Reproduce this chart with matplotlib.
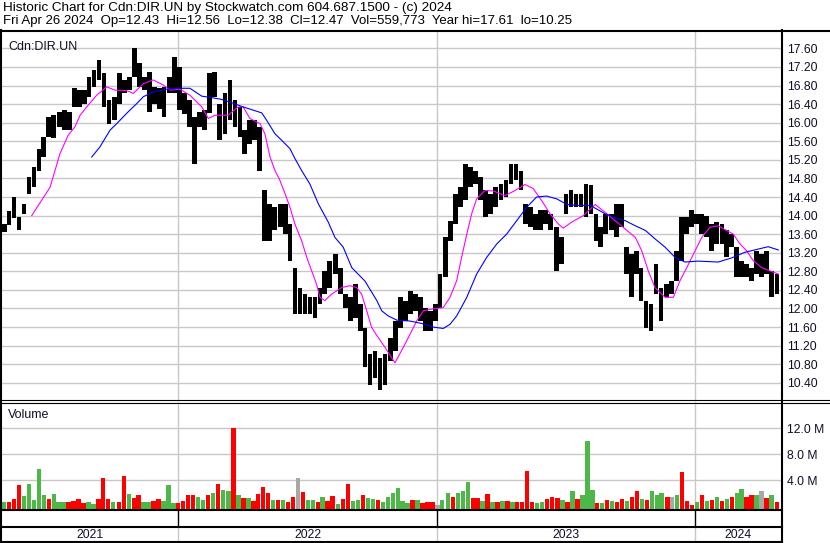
import numpy as np
import pandas as pd
import matplotlib
matplotlib.use('Agg')
import matplotlib.pyplot as plt
from matplotlib.lines import Line2D

plt.rcParams['font.family'] = ['Liberation Sans', 'DejaVu Sans']

# === Weekly price range (May 2021 -> Apr 2024) ===
week_high = [13.82, 14.10, 14.40, 13.96, 14.25, 14.83, 15.04, 15.44, 15.69, 16.12,
             16.16, 16.23, 16.27, 16.23, 16.74, 16.70, 16.70, 16.99, 17.13, 17.35,
             17.06, 16.48, 16.56, 17.06, 16.92, 16.99, 17.61, 17.28, 16.99, 17.10,
             16.77, 16.74, 16.77, 16.99, 17.42, 17.20, 16.63, 16.48, 16.12,
             16.23, 16.27, 17.06, 17.10, 16.41, 16.63, 16.92, 16.48, 16.34, 15.84,
             16.05, 16.05, 15.91, 14.54, 14.25, 14.18, 14.25, 14.25, 13.82, 12.88,
             12.45, 12.31, 12.24, 12.24, 12.45, 12.81, 13.03, 13.17, 12.88, 12.31,
             12.24, 12.52, 12.09, 11.59, 11.01, 11.08, 10.94, 11.01, 11.37,
             11.73, 12.24, 12.17, 12.38, 12.31, 12.24, 12.02, 11.95, 12.09, 12.74,
             13.53, 13.89, 14.47, 14.61, 15.12, 15.04, 14.97, 14.83, 14.54, 14.47,
             14.61, 14.68, 14.76, 15.12, 15.12, 14.97, 14.25, 14.18, 14.04, 14.11,
             14.11, 14.04, 13.75, 13.53, 14.47, 14.54, 14.47, 14.47,
             14.68, 14.65, 14.04, 13.75, 14.04, 14.04, 14.25, 14.25, 13.32, 13.17,
             13.24, 12.88, 12.17, 12.09, 12.95, 12.45, 12.52, 12.59, 13.24, 13.96,
             13.96, 14.11, 14.04, 14.04, 14.00, 13.82, 13.86, 13.82, 13.68, 13.60,
             13.32, 13.03, 12.95, 12.88, 13.24, 13.17, 13.24, 12.81, 12.74]
week_low = [13.64, 13.80, 13.95, 13.68, 14.04, 14.47, 14.61, 14.97, 15.26, 15.69,
            15.66, 15.91, 15.84, 15.84, 16.34, 16.34, 16.41, 16.56, 16.77, 16.92,
            16.34, 15.98, 16.05, 16.41, 16.63, 16.70, 16.99, 16.77, 16.70, 16.23,
            16.41, 16.30, 16.12, 16.63, 16.63, 16.27, 16.19, 15.91, 15.12,
            15.91, 15.84, 16.20, 16.56, 15.62, 15.76, 16.05, 15.91, 15.69, 15.33,
            15.55, 15.62, 14.97, 13.46, 13.46, 13.68, 13.75, 13.60, 13.03, 11.88,
            11.88, 11.88, 11.88, 11.80, 12.09, 12.31, 12.45, 12.74, 12.31, 12.02,
            11.73, 11.80, 11.52, 10.73, 10.36, 10.51, 10.25, 10.36, 10.87,
            11.08, 11.59, 11.73, 11.88, 11.95, 11.73, 11.52, 11.52, 11.73, 12.02,
            12.67, 13.46, 13.82, 14.18, 14.33, 14.61, 14.68, 14.33, 13.96, 14.04,
            14.18, 14.33, 14.40, 14.68, 14.76, 14.54, 13.82, 13.75, 13.68, 13.68,
            13.82, 13.68, 12.81, 12.95, 14.04, 14.18, 14.18, 14.18,
            13.96, 14.04, 13.46, 13.32, 13.60, 13.68, 13.53, 13.75, 12.74, 12.24,
            12.74, 12.17, 11.59, 11.52, 12.31, 11.73, 12.24, 12.31, 12.59, 13.03,
            13.60, 13.75, 13.82, 13.60, 13.53, 13.24, 13.39, 13.39, 13.10, 13.32,
            12.67, 12.67, 12.67, 12.59, 12.74, 12.67, 12.74, 12.24, 12.31]

# === Moving averages (time in fractional years) ===
ma_fast_t = [2021.433, 2021.504, 2021.542, 2021.574, 2021.600, 2021.620, 2021.646, 2021.684,
             2021.723, 2021.755, 2021.800, 2021.826, 2021.865, 2021.903, 2021.942, 2021.968,
             2022.007, 2022.045, 2022.091, 2022.116, 2022.142, 2022.193, 2022.232, 2022.251,
             2022.277, 2022.316, 2022.335, 2022.355, 2022.374, 2022.393, 2022.413, 2022.432,
             2022.451, 2022.477, 2022.497, 2022.516, 2022.535, 2022.548, 2022.567, 2022.593,
             2022.632, 2022.664, 2022.690, 2022.709, 2022.729, 2022.748, 2022.774, 2022.800,
             2022.838, 2022.870, 2022.896, 2022.922, 2022.948, 2022.974, 2023.025, 2023.051,
             2023.077, 2023.096, 2023.116, 2023.135, 2023.154, 2023.186, 2023.219, 2023.264,
             2023.303, 2023.341, 2023.373, 2023.406, 2023.438, 2023.470, 2023.489, 2023.522,
             2023.567, 2023.613, 2023.651, 2023.690, 2023.729, 2023.768, 2023.793, 2023.818,
             2023.844, 2023.883, 2023.915, 2023.941, 2023.967, 2023.999, 2024.025, 2024.057,
             2024.089, 2024.121, 2024.147, 2024.173, 2024.199, 2024.224, 2024.257, 2024.289,
             2024.321]
ma_fast = [14.00, 14.61, 15.33, 15.73, 15.91, 16.16, 16.34, 16.59, 16.77, 16.70,
           16.69, 16.63, 16.84, 16.92, 16.81, 16.70, 16.72, 16.59, 16.34, 16.09,
           16.16, 16.16, 16.34, 16.34, 16.09, 15.98, 15.76, 15.26, 14.97, 14.76,
           14.47, 14.18, 13.82, 13.46, 13.10, 12.81, 12.52, 12.24, 12.17, 12.31,
           12.45, 12.49, 12.45, 12.31, 11.95, 11.59, 11.37, 11.16, 10.83, 11.16,
           11.44, 11.73, 11.95, 11.98, 12.02, 12.24, 12.60, 13.10, 13.60, 14.04,
           14.36, 14.54, 14.53, 14.43, 14.54, 14.67, 14.58, 14.32, 14.04, 13.82,
           13.73, 13.86, 14.00, 14.24, 14.07, 13.89, 13.71, 13.53, 13.24, 12.81,
           12.45, 12.24, 12.24, 12.60, 12.88, 13.24, 13.53, 13.75, 13.78, 13.68,
           13.60, 13.39, 13.24, 13.03, 12.88, 12.81, 12.74]
ma_slow_t = [2021.665, 2021.697, 2021.736, 2021.762, 2021.800, 2021.839, 2021.865, 2021.903,
             2021.955, 2022.007, 2022.045, 2022.091, 2022.129, 2022.168, 2022.207, 2022.245,
             2022.284, 2022.323, 2022.342, 2022.374, 2022.400, 2022.432, 2022.451, 2022.477,
             2022.509, 2022.542, 2022.580, 2022.606, 2022.638, 2022.671, 2022.722, 2022.768,
             2022.787, 2022.812, 2022.845, 2022.896, 2022.948, 2022.986, 2023.025, 2023.051,
             2023.077, 2023.116, 2023.154, 2023.193, 2023.232, 2023.270, 2023.309, 2023.348,
             2023.386, 2023.425, 2023.464, 2023.503, 2023.541, 2023.593, 2023.651, 2023.690,
             2023.729, 2023.768, 2023.807, 2023.844, 2023.883, 2023.922, 2023.960, 2024.012,
             2024.089, 2024.141, 2024.192, 2024.244, 2024.282, 2024.321]
ma_slow = [15.26, 15.48, 15.84, 15.98, 16.20, 16.41, 16.56, 16.66, 16.72, 16.74,
           16.74, 16.57, 16.54, 16.50, 16.43, 16.35, 16.28, 16.21, 16.05, 15.76,
           15.62, 15.44, 15.23, 14.97, 14.68, 14.25, 13.86, 13.53, 13.32, 12.88,
           12.59, 12.17, 11.95, 11.84, 11.75, 11.73, 11.67, 11.60, 11.57, 11.66,
           11.84, 12.24, 12.74, 13.10, 13.39, 13.60, 13.89, 14.18, 14.40, 14.42,
           14.36, 14.24, 14.22, 14.22, 14.04, 13.95, 13.89, 13.78, 13.68, 13.50,
           13.32, 13.10, 13.00, 13.02, 13.00, 13.09, 13.21, 13.28, 13.33, 13.26]

# === Weekly volume (millions) and bar colour: r = down, g = up, k = unchanged ===
volume = [0.6, 0.7, 1.1, 3.2, 1.6, 3.4, 0.9, 5.7, 1.7, 1.1, 1.9, 0.6, 0.7, 0.6, 0.8,
          1.1, 0.5, 0.6, 0.3, 1.1, 4.4, 1.1, 0.7, 0.6, 4.6, 1.9, 1.2, 1.7, 0.7, 0.6,
          0.8, 1.1, 0.8, 3.2, 0.5, 0.5, 0.8, 1.7, 1.8, 1.5, 1.0, 1.8, 2.0, 3.4, 2.5,
          2.3, 12.0, 1.7, 1.3, 1.3, 0.8, 1.9, 3.0, 2.0, 0.9, 0.9, 0.9, 0.7, 1.5, 4.4,
          2.2, 1.0, 0.9, 0.7, 1.4, 0.8, 1.6, 0.4, 1.1, 3.5, 0.8, 1.0, 1.7, 1.2, 1.1,
          1.0, 0.7, 1.4, 2.0, 2.8, 0.8, 0.5, 0.9, 0.9, 0.5, 0.7, 0.6, 0.2, 0.9, 2.0,
          1.5, 2.0, 2.3, 3.7, 1.2, 1.2, 0.8, 1.9, 0.7, 0.7, 0.8, 0.8,
          0.7, 0.6, 0.7, 5.4, 0.6, 0.5, 0.6, 1.1, 1.5, 1.3, 1.0, 0.7, 2.3, 1.1, 1.7,
          10.0, 2.5, 0.5, 0.5, 0.9, 0.8, 0.6, 1.1, 0.8, 1.5, 2.4, 1.1, 1.0, 2.3, 1.7,
          2.0, 1.5, 1.5, 1.7, 5.2, 0.8, 0.2, 0.7, 1.8, 0.8, 1.0, 1.4, 0.8, 1.1, 1.5,
          2.0, 2.7, 1.5, 1.7, 1.7, 2.4, 1.2, 1.7, 0.7]
vol_dir = ("grrrgggggr" "gggrrrrggr" "rrgrrgrrgg" "rrgggrrrrg" "grgrggrgrg" "rrrrgrgrrk"
           "rggrgrrgrr" "ggrggrgggg" "ggrgrrrkgg" "rgggrrgrgr" "gr"
           "grrrrggrrr" "grgrgggrgr" "grrgrrgrgg" "grkgrrrgrg" "rgrgrggrrg" "krgr")

price_labels = ['17.60', '17.20', '16.80', '16.40', '16.00', '15.60', '15.20', '14.80', '14.40',
                '14.00', '13.60', '13.20', '12.80', '12.40', '12.00', '11.60', '11.20', '10.80', '10.40']
vol_ticks = [4.0, 8.0, 12.0]
years = [2021, 2022, 2023, 2024]

title_1 = 'Historic Chart for Cdn:DIR.UN by Stockwatch.com 604.687.1500 - (c) 2024'
title_2 = ('Fri Apr 26 2024  Op=12.43  Hi=12.56  Lo=12.38  Cl=12.47  '
           'Vol=559,773  Year hi=17.61  lo=10.25')


def frac_year(d):
    return 2022 + (pd.DatetimeIndex(d) - pd.Timestamp('2022-01-01')).days / 365.25


price_t = frac_year(pd.date_range('2021-04-30', '2024-04-26', periods=len(week_high)))
vol_t = frac_year(pd.date_range('2021-04-30', '2024-04-26', periods=len(volume)))
colour_map = {'r': '#FF0000', 'g': '#4DB848', 'k': '#A8A8A8'}
vol_colours = [colour_map[c] for c in vol_dir[:len(volume)]]

# === Layout in pixels ===
W, H = 830, 543
fig = plt.figure(figsize=(W / 100, H / 100), dpi=100)


def rect(x0, y0, x1, y1):
    return [x0 / W, 1 - y1 / H, (x1 - x0) / W, (y1 - y0) / H]


xlim = (2022 + (2 - 178.3) / 258.5, 2022 + (781 - 178.3) / 258.5)
grid_c = '#C8C8C8'
txt_c = '#101028'
fs = 8.7

ax_p = fig.add_axes(rect(2, 32, 781, 400))
ax_v = fig.add_axes(rect(2, 402, 781, 509))
ax_d = fig.add_axes(rect(2, 510, 781, 543))

# --- price panel ---
ax_p.bar(price_t, np.array(week_high) - np.array(week_low), bottom=week_low,
         width=6.6 / 365.25, color='black', linewidth=0)
ax_p.plot(ma_fast_t, ma_fast, color='#FF00FF', lw=0.8)
ax_p.plot(ma_slow_t, ma_slow, color='#0000FF', lw=0.8)
ax_p.set_ylim(10.03, 17.952)
ticks = [float(s) for s in price_labels]
ax_p.set_yticks(ticks)
ax_p.set_yticklabels(price_labels)
ax_p.text(0.008, 0.975, 'Cdn:DIR.UN', transform=ax_p.transAxes, ha='left', va='top',
          fontsize=fs + 0.3, color=txt_c)

# --- volume panel ---
v_bottom = -0.42
ax_v.bar(vol_t, np.array(volume) - v_bottom, bottom=v_bottom, width=6.2 / 365.25,
         color=vol_colours, linewidth=0)
ax_v.set_ylim(v_bottom, 16.05)
ax_v.set_yticks(vol_ticks)
ax_v.set_yticklabels([f'{v:.1f} M' for v in vol_ticks])
ax_v.text(0.008, 0.93, 'Volume', transform=ax_v.transAxes, ha='left', va='top',
          fontsize=fs + 0.3, color=txt_c)

for ax in (ax_p, ax_v):
    ax.set_xlim(*xlim)
    ax.set_xticks(years[1:])
    ax.set_xticklabels([])
    ax.yaxis.tick_right()
    ax.tick_params(axis='both', length=0, labelsize=fs, labelcolor=txt_c)
    ax.tick_params(axis='y', pad=4.5)
    ax.grid(True, color=grid_c, lw=1.0)
    ax.set_axisbelow(True)
    for s in ax.spines.values():
        s.set_visible(False)

# --- date strip ---
ax_d.set_xlim(*xlim)
ax_d.set_ylim(0, 33)
ax_d.axis('off')
for y in years[1:]:
    ax_d.plot([y, y], [16, 33], color='black', lw=1.0)
    ax_d.plot([y, y], [0, 15], color=grid_c, lw=1.0)
for y in years:
    a, b = max(y, xlim[0]), min(y + 1, xlim[1])
    ax_d.text((a + b) / 2, 7.5, str(y), ha='center', va='center', fontsize=fs, color=txt_c)

# --- frame lines (pixel coordinates) ---
def hline(y, x0, x1, lw):
    fig.add_artist(Line2D([x0 / W, x1 / W], [1 - y / H, 1 - y / H], color='black', lw=lw))


def vline(x, y0, y1, lw):
    fig.add_artist(Line2D([x / W, x / W], [1 - y0 / H, 1 - y1 / H], color='black', lw=lw))


hline(30.5, 0, W, 1.5)
hline(400.3, 0, W, 0.8)
hline(402.6, 0, W, 0.8)
hline(509.6, 0, 782, 1.5)
hline(527, 0, 782, 1.5)
hline(542.2, 0, 782, 1.5)
vline(1.0, 30, H, 1.5)
vline(782, 30, H, 1.5)

fig.text(3 / W, 1 - 8 / H, title_1, ha='left', va='center', fontsize=9.7, color='black')
fig.text(3 / W, 1 - 21 / H, title_2, ha='left', va='center', fontsize=9.5, color='black')

fig.savefig('out.png', dpi=100)
